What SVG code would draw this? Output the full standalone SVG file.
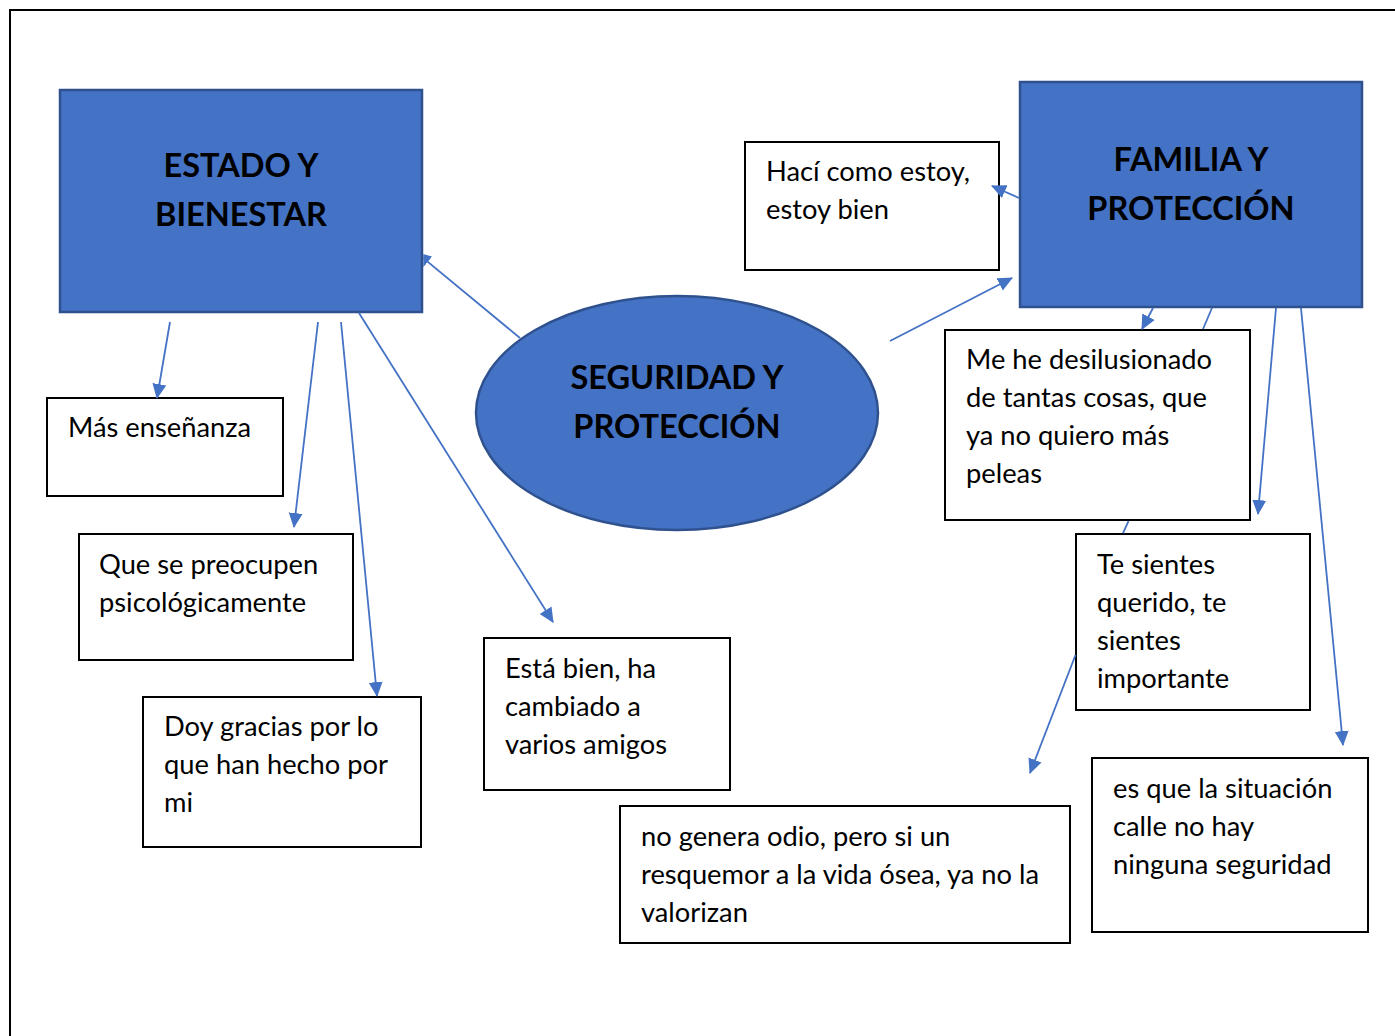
<svg xmlns="http://www.w3.org/2000/svg" width="1395" height="1036" viewBox="0 0 1395 1036">
<style>
.frame{fill:none;stroke:#000;stroke-width:2}
.blue{fill:#4472C4;stroke:#2F528F;stroke-width:2.5}
.box{fill:#fff;stroke:#000;stroke-width:2}
.t{font-family:Lato,"Liberation Sans",sans-serif;font-size:27.3px;fill:#000}
.h{font-family:Lato,"Liberation Sans",sans-serif;font-size:32.5px;font-weight:bold;fill:#000;text-anchor:middle}
.c{fill:none;stroke:#4472C4;stroke-width:1.8}
</style>
<defs>
<marker id="ah" markerUnits="userSpaceOnUse" markerWidth="15" markerHeight="15" viewBox="0 0 14 14" refX="13" refY="7" orient="auto">
<path d="M0,0.5 L14,7 L0,13.5 Z" fill="#4472C4"/>
</marker>
<clipPath id="outEstado"><rect x="423.3" y="0" width="600" height="600"/></clipPath>
</defs>
<rect width="1395" height="1036" fill="#fff"/>
<path class="frame" d="M10,1036 V10 H1395"/>
<g id="estado">
<rect class="blue" x="60" y="90" width="362" height="222"/>
<text class="h" x="241" y="177">ESTADO Y</text>
<text class="h" x="241" y="226">BIENESTAR</text>
</g>
<g id="familia">
<rect class="blue" x="1020" y="82" width="342" height="225"/>
<text class="h" x="1191" y="171">FAMILIA Y</text>
<text class="h" x="1191" y="220">PROTECCIÓN</text>
</g>
<g id="seguridad">
<ellipse class="blue" cx="677" cy="413" rx="201" ry="117"/>
<text class="h" x="677" y="389">SEGURIDAD Y</text>
<text class="h" x="677" y="438">PROTECCIÓN</text>
</g>
<g id="haci">
<rect class="box" x="745" y="142" width="254" height="128"/>
<text class="t" x="766" y="181">Hací como estoy,</text>
<text class="t" x="766" y="219">estoy bien</text>
</g>
<g id="mas">
<rect class="box" x="47" y="398" width="236" height="98"/>
<text class="t" x="68" y="437">Más enseñanza</text>
</g>
<g id="que">
<rect class="box" x="79" y="534" width="274" height="126"/>
<text class="t" x="99" y="574">Que se preocupen</text>
<text class="t" x="99" y="612">psicológicamente</text>
</g>
<g id="doy">
<rect class="box" x="143" y="697" width="278" height="150"/>
<text class="t" x="164" y="736">Doy gracias por lo</text>
<text class="t" x="164" y="774">que han hecho por</text>
<text class="t" x="164" y="812">mi</text>
</g>
<g id="esta">
<rect class="box" x="484" y="638" width="246" height="152"/>
<text class="t" x="505" y="678">Está bien, ha</text>
<text class="t" x="505" y="716">cambiado a</text>
<text class="t" x="505" y="754">varios amigos</text>
</g>
<g id="mehe">
<rect class="box" x="945" y="330" width="305" height="190"/>
<text class="t" x="966" y="369">Me he desilusionado</text>
<text class="t" x="966" y="407">de tantas cosas, que</text>
<text class="t" x="966" y="445">ya no quiero más</text>
<text class="t" x="966" y="483">peleas</text>
</g>
<g id="te">
<rect class="box" x="1076" y="534" width="234" height="176"/>
<text class="t" x="1097" y="574">Te sientes</text>
<text class="t" x="1097" y="612">querido, te</text>
<text class="t" x="1097" y="650">sientes</text>
<text class="t" x="1097" y="688">importante</text>
</g>
<g id="nogenera">
<rect class="box" x="620" y="806" width="450" height="137"/>
<text class="t" x="641" y="846">no genera odio, pero si un</text>
<text class="t" x="641" y="884">resquemor a la vida ósea, ya no la</text>
<text class="t" x="641" y="922">valorizan</text>
</g>
<g id="esque">
<rect class="box" x="1092" y="758" width="276" height="174"/>
<text class="t" x="1113" y="798">es que la situación</text>
<text class="t" x="1113" y="836">calle no hay</text>
<text class="t" x="1113" y="874">ninguna seguridad</text>
</g>
<g id="connectors">
<line class="c" x1="520" y1="338" x2="417" y2="253" marker-end="url(#ah)" clip-path="url(#outEstado)"/>
<line class="c" x1="170" y1="322" x2="157" y2="398" marker-end="url(#ah)"/>
<line class="c" x1="318" y1="322" x2="294" y2="527" marker-end="url(#ah)"/>
<line class="c" x1="341" y1="322" x2="377" y2="696" marker-end="url(#ah)"/>
<line class="c" x1="359" y1="313" x2="553" y2="622" marker-end="url(#ah)"/>
<line class="c" x1="890" y1="341" x2="1012" y2="278" marker-end="url(#ah)"/>
<line class="c" x1="1019" y1="198" x2="992" y2="186" marker-end="url(#ah)"/>
<line class="c" x1="1153" y1="308" x2="1142" y2="329" marker-end="url(#ah)"/>
<line class="c" x1="1212" y1="308" x2="1203" y2="329"/>
<line class="c" x1="1128.5" y1="521" x2="1123" y2="533"/>
<line class="c" x1="1075.5" y1="655" x2="1030" y2="773" marker-end="url(#ah)"/>
<line class="c" x1="1276" y1="308" x2="1258" y2="514" marker-end="url(#ah)"/>
<line class="c" x1="1301" y1="308" x2="1343" y2="745" marker-end="url(#ah)"/>
</g>
</svg>
